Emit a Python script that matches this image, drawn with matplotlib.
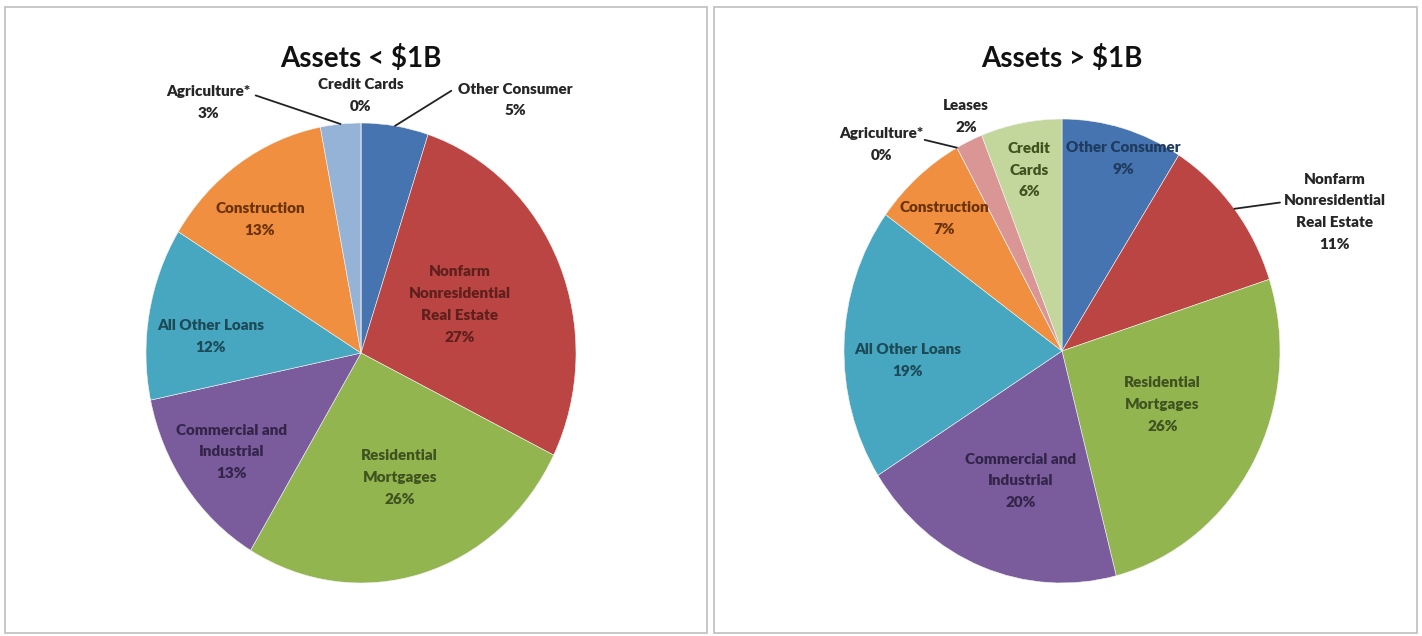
import numpy as np
from matplotlib import pyplot as plt
from matplotlib.patches import Rectangle

# data
left_title = 'Assets < $1B'
left_labels = ['Other Consumer', 'Nonfarm\nNonresidential\nReal Estate', 'Residential\nMortgages',
               'Commercial and\nIndustrial', 'All Other Loans', 'Construction', 'Agriculture*', 'Credit Cards']
left_values = [5, 27, 26, 13, 12, 13, 3, 0]

right_title = 'Assets > $1B'
right_labels = ['Other Consumer', 'Nonfarm\nNonresidential\nReal Estate', 'Residential\nMortgages',
                'Commercial and\nIndustrial', 'All Other Loans', 'Construction', 'Agriculture*', 'Leases',
                'Credit\nCards']
right_values = [9, 11, 26, 20, 19, 7, 0, 2, 6]

# styles (fill, text colour) per category
styles = {
    'Other Consumer': ('#4674B0', '#1F3B5E'),
    'Nonfarm': ('#BA4542', '#5E1F1D'),
    'Residential': ('#93B550', '#3F5220'),
    'Commercial': ('#7A5C9C', '#33254A'),
    'All Other Loans': ('#47A7C0', '#1C4A57'),
    'Construction': ('#F08F40', '#6B3208'),
    'Agriculture*': ('#95B3D7', '#333333'),
    'Credit': ('#C3D69B', '#3F5220'),
    'Leases': ('#D99694', '#333333'),
}

# label placement in pie units (x, y) and optional leader end
left_pos = [(0.72, 1.10), (0.46, 0.21), (0.18, -0.54), (-0.60, -0.43), (-0.70, 0.07),
            (-0.47, 0.58), (-0.71, 1.09), (0.0, 1.12)]
left_lead = [(0.42, 1.14), None, None, None, None, None, (-0.49, 1.12), None]
left_outside = [True, False, False, False, False, False, True, True]

right_pos = [(0.28, 0.83), (1.25, 0.60), (0.46, -0.23), (-0.19, -0.56), (-0.71, -0.04),
             (-0.54, 0.57), (-0.83, 0.89), (-0.44, 1.01), (-0.15, 0.78)]
right_lead = [None, (1.0, 0.64), None, None, None, None, (-0.63, 0.91), None, None]
right_outside = [False, True, False, False, False, False, True, True, False]

plt.rcParams['font.family'] = ['Lato', 'DejaVu Sans']

W, H = 1422, 636
fig = plt.figure(figsize=(W / 100, H / 100), dpi=100)


def style_for(label):
    for key in styles:
        if label.startswith(key):
            return styles[key]
    return ('#888888', '#333333')


def draw_panel(px0, px1, title, labels, values, pos, lead, outside, pie_box, title_x):
    fig.add_artist(Rectangle((px0 / W, 1 - 633 / H), (px1 - px0) / W, 626 / H,
                             transform=fig.transFigure, fill=False, edgecolor='#BFBFBF', lw=1.2))
    fig.text(title_x / W, 1 - 58 / H, title, ha='center', va='center', fontsize=20,
             fontweight='bold', color='#111111')

    x0, y0, x1, y1 = pie_box
    ax = fig.add_axes([x0 / W, 1 - y1 / H, (x1 - x0) / W, (y1 - y0) / H])
    cols = [style_for(l)[0] for l in labels]
    wedges, _ = ax.pie(values, colors=cols, startangle=90, counterclock=False,
                       wedgeprops=dict(edgecolor='#f4f4f4', linewidth=0.4))
    ax.set_aspect('auto')
    ax.set_xlim(-1, 1)
    ax.set_ylim(-1, 1)
    ax.axis('off')

    for w, lab, v, p, ld, out in zip(wedges, labels, values, pos, lead, outside):
        tc = '#262626' if out else style_for(lab)[1]
        ax.text(p[0], p[1], f'{lab}\n{v}%', ha='center', va='center', fontsize=11,
                fontweight='heavy', color=tc, linespacing=1.8, clip_on=False)
        if ld is not None:
            mid = np.deg2rad((w.theta1 + w.theta2) / 2)
            ax.plot([np.cos(mid), ld[0]], [np.sin(mid), ld[1]], color='#222222', lw=1.3,
                    clip_on=False, solid_capstyle='round')


draw_panel(5, 707, left_title, left_labels, left_values, left_pos, left_lead, left_outside,
           (146, 123, 576, 583), 361)
draw_panel(714, 1417, right_title, right_labels, right_values, right_pos, right_lead, right_outside,
           (844, 119, 1280, 583), 1062)

plt.savefig('out.png', dpi=100)
